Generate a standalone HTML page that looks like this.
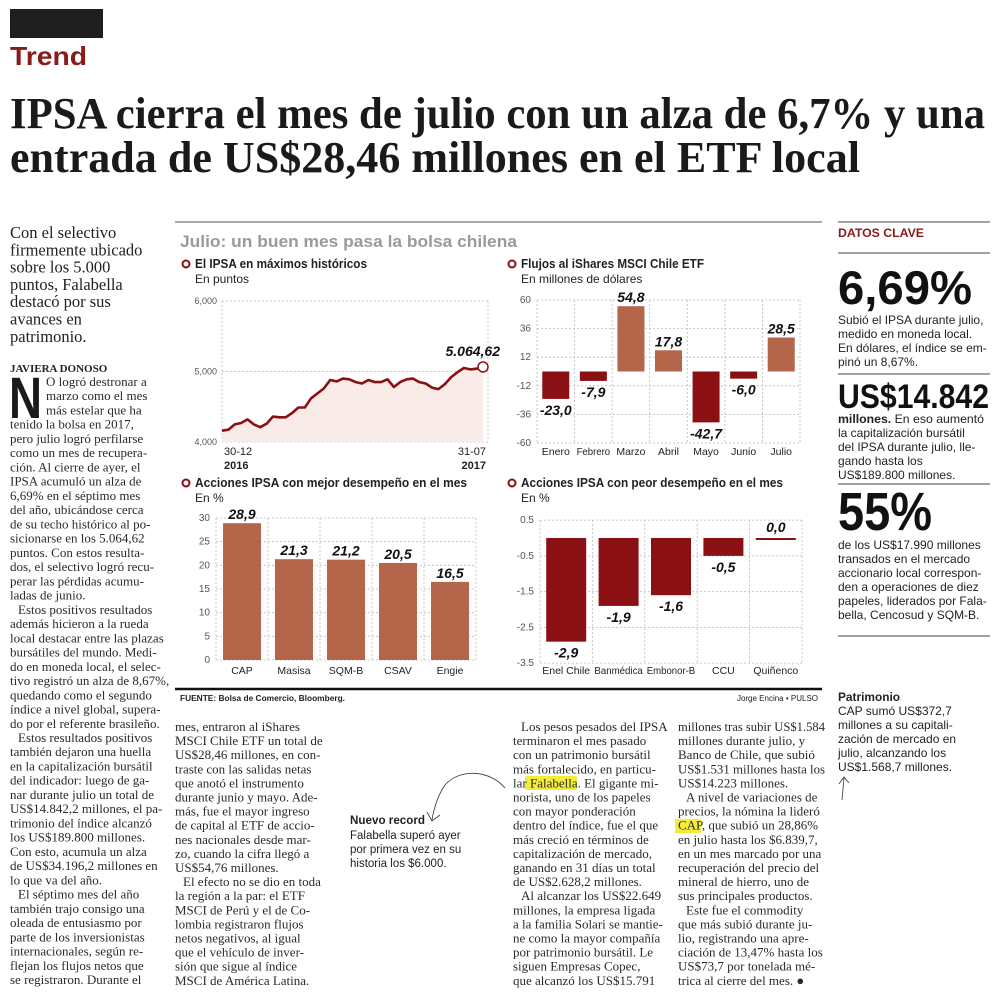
<!DOCTYPE html>
<html><head><meta charset="utf-8">
<style>
html,body{margin:0;padding:0;background:#fff;}
svg{display:block;}
</style></head>
<body>
<svg id="page" width="1000" height="995" viewBox="0 0 1000 995" xmlns="http://www.w3.org/2000/svg">
<rect x="10" y="9" width="93" height="29" fill="#1e1e1e"/>
<g id="bg"></g>
<g id="txt"></g>
</svg>
<script>
// ---------- chart data ----------
const ipsaTicks=[6000,5000,4000];
const ipsaValues=[4160,4175,4250,4270,4320,4250,4210,4260,4360,4350,4350,4410,4490,4490,4620,4690,4760,4880,4860,4900,4890,4850,4830,4880,4850,4850,4890,4780,4850,4890,4900,4850,4830,4770,4750,4820,4920,4990,5050,5030,5040,5064.62];
const flowCats=['Enero','Febrero','Marzo','Abril','Mayo','Junio','Julio'];
const flowValues=[-23.0,-7.9,54.8,17.8,-42.7,-6.0,28.5];
const flowTicks=[60,36,12,-12,-36,-60];
const bestCats=['CAP','Masisa','SQM-B','CSAV','Engie'];
const bestValues=[28.9,21.3,21.2,20.5,16.5];
const bestTicks=[30,25,20,15,10,5,0];
const worstCats=['Enel Chile','Banmédica','Embonor-B','CCU','Quiñenco'];
const worstValues=[-2.9,-1.9,-1.6,-0.5,0.0];
const worstTicks=[0.5,-0.5,-1.5,-2.5,-3.5];

const NS='http://www.w3.org/2000/svg';
const SERIF='"Liberation Serif", serif', SANS='"Liberation Sans", sans-serif';
const bg=document.getElementById('bg'), tx=document.getElementById('txt');
function fmt(v){return v.toFixed(1).replace('.',',');}
function T(name,x,y,s,size,o){
  o=o||{};
  const el=document.createElementNS(NS,'text');
  
  
  el.setAttribute('x',x);el.setAttribute('y',y);
  el.setAttribute('font-family',o.ff||SANS);
  el.setAttribute('font-size',size);
  el.setAttribute('fill',o.fill||'#222');
  if(o.bold)el.setAttribute('font-weight','bold');
  if(o.italic)el.setAttribute('font-style','italic');
  if(o.anchor)el.setAttribute('text-anchor',o.anchor);
  el.textContent=s;
  (o.parent||tx).appendChild(el);
  if(o.exact){el.setAttribute('textLength',o.exact);el.setAttribute('lengthAdjust','spacingAndGlyphs');}
  else if(o.max&&el.getComputedTextLength()>o.max){el.setAttribute('textLength',o.max);el.setAttribute('lengthAdjust','spacingAndGlyphs');}
  return el;
}
function S(tag,name,attrs,parent){
  const el=document.createElementNS(NS,tag);
  
  
  for(const k in attrs)el.setAttribute(k,attrs[k]);
  (parent||bg).appendChild(el);return el;
}
function L(name,x1,y1,x2,y2,c,w,dash){const a={x1,y1,x2,y2,stroke:c,'stroke-width':w};if(dash)a['stroke-dasharray']=dash;return S('line',name,a);}

// ---------- header ----------
T('section-label',10,65,'Trend',26,{bold:true,fill:'#8b1a1a',exact:77});
T('headline-line-1',10,128,'IPSA cierra el mes de julio con un alza de 6,7% y una',44,{ff:SERIF,bold:true,fill:'#1a1a1a',exact:975});
T('headline-line-2',10,172,'entrada de US$28,46 millones en el ETF local',44,{ff:SERIF,bold:true,fill:'#1a1a1a',exact:850});

// ---------- intro ----------
['Con el selectivo','firmemente ubicado','sobre los 5.000','puntos, Falabella','destacó por sus','avances en','patrimonio.'].forEach((s,i)=>T('intro-line',10,238+i*17.3,s,16.5,{ff:SERIF,max:150}));
T('author-byline',10,372,'JAVIERA DONOSO',11,{ff:SERIF,bold:true,max:100});
T('drop-cap',9,418,'N',58,{ff:SANS,bold:true,fill:'#1a1a1a',exact:33});

function column(lines,x,y0,pitch,maxW,name){
  lines.forEach((s,i)=>{
    let xx=x,mw=maxW,str=s;
    if(s.startsWith('>')){str=s.slice(1);xx=x+36;mw=maxW-36;}
    else if(s.startsWith(' ')){str=s.slice(1);xx=x+8;mw=maxW-8;}
    T(name,xx,y0+i*pitch,str,13,{ff:SERIF,max:mw,fill:'#2a2a2a'});
  });
}
const col1=['>O logró destronar a','>marzo como el mes','>más estelar que ha','tenido la bolsa en 2017,','pero julio logró perfilarse','como un mes de recupera-','ción. Al cierre de ayer, el','IPSA acumuló un alza de','6,69% en el séptimo mes','del año, ubicándose cerca','de su techo histórico al po-','sicionarse en los 5.064,62','puntos. Con estos resulta-','dos, el selectivo logró recu-','perar las pérdidas acumu-','ladas de junio.',' Estos positivos resultados','además hicieron a la rueda','local destacar entre las plazas','bursátiles del mundo. Medi-','do en moneda local, el selec-','tivo registró un alza de 8,67%,','quedando como el segundo','índice a nivel global, supera-','do por el referente brasileño.',' Estos resultados positivos','también dejaron una huella','en la capitalización bursátil','del indicador: luego de ga-','nar durante julio un total de','US$14.842,2 millones, el pa-','trimonio del índice alcanzó','los US$189.800 millones.','Con esto, acumula un alza','de US$34.196,2 millones en','lo que va del año.',' El séptimo mes del año','también trajo consigo una','oleada de entusiasmo por','parte de los inversionistas','internacionales, según re-','flejan los flujos netos que','se registraron. Durante el'];
column(col1,10,386,14.24,160,'body-col1-line');
const col2=['mes, entraron al iShares','MSCI Chile ETF un total de','US$28,46 millones, en con-','traste con las salidas netas','que anotó el instrumento','durante junio y mayo. Ade-','más, fue el mayor ingreso','de capital al ETF de accio-','nes nacionales desde mar-','zo, cuando la cifra llegó a','US$54,76 millones.',' El efecto no se dio en toda','la región a la par: el ETF','MSCI de Perú y el de Co-','lombia registraron flujos','netos negativos, al igual','que el vehículo de inver-','sión que sigue al índice','MSCI de América Latina.'];
// highlights
S('rect','highlight-falabella',{x:525,y:776,width:52,height:14,fill:'#f4ec3a'});
S('rect','highlight-cap',{x:675,y:819,width:26,height:14,fill:'#f4ec3a'});
column(col2,175,731,14.1,155,'body-col2-line');
const col3=[' Los pesos pesados del IPSA','terminaron el mes pasado','con un patrimonio bursátil','más fortalecido, en particu-','lar Falabella. El gigante mi-','norista, uno de los papeles','con mayor ponderación','dentro del índice, fue el que','más creció en términos de','capitalización de mercado,','ganando en 31 días un total','de US$2.628,2 millones.',' Al alcanzar los US$22.649','millones, la empresa ligada','a la familia Solari se mantie-','ne como la mayor compañía','por patrimonio bursátil. Le','siguen Empresas Copec,','que alcanzó los US$15.791'];
column(col3,513,731,14.1,167,'body-col3-line');
const col4=['millones tras subir US$1.584','millones durante julio, y','Banco de Chile, que subió','US$1.531 millones hasta los','US$14.223 millones.',' A nivel de variaciones de','precios, la nómina la lideró','CAP, que subió un 28,86%','en julio hasta los $6.839,7,','en un mes marcado por una','recuperación del precio del','mineral de hierro, uno de','sus principales productos.',' Este fue el commodity','que más subió durante ju-','lio, registrando una apre-','ciación de 13,47% hasta los','US$73,7 por tonelada mé-','trica al cierre del mes. ●'];
column(col4,678,731,14.1,147,'body-col4-line');

// Nuevo record annotation
T('annotation-title',350,824,'Nuevo record',12,{bold:true,max:75});
['Falabella superó ayer','por primera vez en su','historia los $6.000.'].forEach((s,i)=>T('annotation-line',350,839+i*14,s,11.5,{max:118}));
S('path','annotation-arrow',{d:'M505,788 C490,770 460,768 445,785 C438,795 434,808 432,820 M427,812 L432,821 L440,815',fill:'none',stroke:'#444','stroke-width':0.9});

// ---------- sidebar ----------
[222,253,374,484,636].forEach(y=>L('sidebar-rule',838,y,990,y,'#444',1));
T('sidebar-title',838,237,'DATOS CLAVE',12,{bold:true,fill:'#8b1a1a',exact:86});
T('stat-ipsa',838,304,'6,69%',47,{bold:true,fill:'#111',exact:134});
['Subió el IPSA durante julio,','medido en moneda local.','En dólares, el índice se em-','pinó un 8,67%.'].forEach((s,i)=>T('stat-ipsa-text',838,324+i*14,s,12,{max:150}));
T('stat-cap',838,408,'US$14.842',34,{bold:true,fill:'#111',exact:151});
(function(){const e=T('stat-cap-text',838,423,'',12,{});const a=document.createElementNS(NS,'tspan');a.setAttribute('font-weight','bold');a.textContent='millones.';e.appendChild(a);e.appendChild(document.createTextNode(' En eso aumentó'));e.setAttribute('textLength',146);e.setAttribute('lengthAdjust','spacingAndGlyphs');})();
['la capitalización bursátil','del IPSA durante julio, lle-','gando hasta los','US$189.800 millones.'].forEach((s,i)=>T('stat-cap-text',838,437+i*14,s,12,{max:150}));
T('stat-volume',838,530,'55%',54,{bold:true,fill:'#111',exact:94});
['de los US$17.990 millones','transados en el mercado','accionario local correspon-','den a operaciones de diez','papeles, liderados por Fala-','bella, Cencosud y SQM-B.'].forEach((s,i)=>T('stat-volume-text',838,549+i*14,s,12,{max:150}));
T('patrimonio-title',838,701,'Patrimonio',12,{bold:true,max:62});
['CAP sumó US$372,7','millones a su capitali-','zación de mercado en','julio, alcanzando los','US$1.568,7 millones.'].forEach((s,i)=>T('patrimonio-text',838,715+i*14,s,12,{max:120}));
S('path','patrimonio-arrow',{d:'M842,800 L844,778 M839,784 L844,777 L849,783',fill:'none',stroke:'#444','stroke-width':0.9});

// ---------- chart frame ----------
L('chart-top-rule',175,222,822,222,'#555',1);
L('chart-bottom-rule',175,689,822,689,'#111',2.5);
T('chart-source',180,701,'FUENTE: Bolsa de Comercio, Bloomberg.',8,{bold:true,exact:165});
T('chart-credit',818,701,'Jorge Encina • PULSO',8,{anchor:'end'});
T('chart-main-title',180,247,'Julio: un buen mes pasa la bolsa chilena',17,{bold:true,fill:'#9a9a9a',exact:337});
function head(x,y,t,st,w){
  S('circle','chart-marker',{cx:x,cy:y-4,r:3.5,fill:'none',stroke:'#8b1014','stroke-width':2});
  T('chart-title',x+9,y,t,12.5,{bold:true,exact:w});
  T('chart-subtitle',x+9,y+15,st,12,{});
}
head(186,268,'El IPSA en máximos históricos','En puntos',172);
head(512,268,'Flujos al iShares MSCI Chile ETF','En millones de dólares',183);
head(186,487,'Acciones IPSA con mejor desempeño en el mes','En %',272);
head(512,487,'Acciones IPSA con peor desempeño en el mes','En %',262);
const DASH='2,2', GC='#bbb', POS='#b5654a', NEG='#8b1014';

// chart 1 line
(function(){
  const x0=222,x1=483;
  const y=v=>442-(v-4000)*0.0705;
  const x=i=>x0+i*(x1-x0)/(ipsaValues.length-1);
  ipsaTicks.forEach(t=>{L('ipsa-gridline',x0,y(t),488,y(t),GC,0.8,DASH);T('ipsa-tick-label',217,y(t)+3,t.toLocaleString('en-US'),9,{anchor:'end',fill:'#555'});});
  L('ipsa-vgrid',x0,y(6000),x0,442,GC,0.8,DASH);L('ipsa-vgrid',488,y(6000),488,442,GC,0.8,DASH);
  let d='',a='M'+x0+',442';
  ipsaValues.forEach((v,i)=>{d+=(i?'L':'M')+x(i).toFixed(1)+','+y(v).toFixed(1);a+='L'+x(i).toFixed(1)+','+y(v).toFixed(1);});
  a+='L'+x1+',442Z';
  S('path','ipsa-area',{d:a,fill:'#f9ebe7'});
  S('path','ipsa-line',{d:d,fill:'none',stroke:NEG,'stroke-width':2.6,'stroke-linejoin':'round'});
  const n=ipsaValues.length-1;
  S('circle','ipsa-last-point',{cx:x(n),cy:y(ipsaValues[n]),r:5,fill:'#fff',stroke:NEG,'stroke-width':1.5});
  T('ipsa-last-value',500,356,ipsaValues[n].toFixed(2).replace('.',',').replace(/^(\d)(\d{3})/,'$1.$2'),14,{bold:true,italic:true,anchor:'end',fill:'#111'});
  T('ipsa-start-date',224,455,'30-12',11,{});T('ipsa-start-year',224,469,'2016',11,{bold:true});
  T('ipsa-end-date',486,455,'31-07',11,{anchor:'end'});T('ipsa-end-year',486,469,'2017',11,{bold:true,anchor:'end'});
})();

function bars(cats,vals,ticks,o){
  const y=v=>o.y0-v*o.k;
  const step=(o.x1-o.x0)/cats.length;
  ticks.forEach(t=>{L(o.nm+'-gridline',o.x0,y(t),o.x1,y(t),GC,0.8,DASH);T(o.nm+'-tick-label',o.x0-6,y(t)+3,String(t),10,{anchor:'end',fill:'#555'});});
  for(let i=0;i<=cats.length;i++){const gx=o.x0+i*step;L(o.nm+'-vgrid',gx,y(ticks[0]),gx,y(ticks[ticks.length-1]),GC,0.8,DASH);}
  cats.forEach((c,i)=>{
    const cx=o.x0+step*(i+0.5),v=vals[i];
    const top=Math.min(y(v),y(0)),h=Math.max(Math.abs(y(v)-y(0)),2);
    S('rect',o.nm+'-bar',{x:cx-o.bw/2,y:top,width:o.bw,height:h,fill:v>0?POS:NEG});
    const ly=v>0?y(v)-4:(v<0?y(v)+16:y(0)-6);
    T(o.nm+'-value-label',cx,ly,fmt(v),14,{bold:true,italic:true,anchor:'middle',fill:'#111'});
    T(o.nm+'-category-label',cx,o.ly,c,10.5,{anchor:'middle',max:step-4});
  });
}
bars(flowCats,flowValues,flowTicks,{nm:'flows',x0:537,x1:800,y0:371.5,k:143/120,bw:27,ly:455});
bars(bestCats,bestValues,bestTicks,{nm:'best',x0:216,x1:476,y0:660,k:142/30,bw:38,ly:674});
bars(worstCats,worstValues,worstTicks,{nm:'worst',x0:540,x1:802,y0:538,k:35.75,bw:40,ly:674});
</script>
</body></html>
